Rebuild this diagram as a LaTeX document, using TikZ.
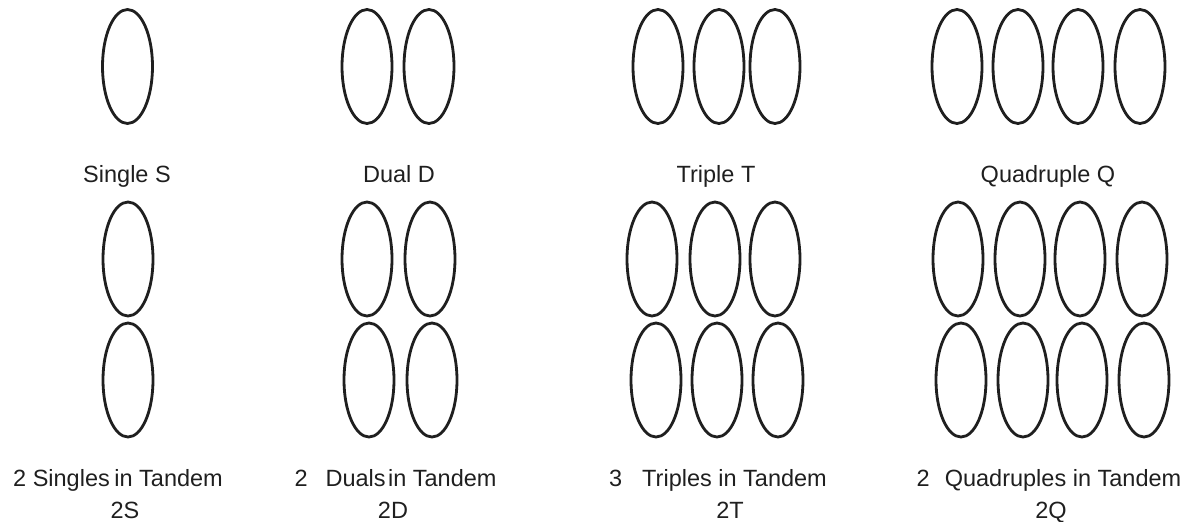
\documentclass[tikz,border=0pt]{standalone}
\usepackage{fontspec}
\setmainfont{Liberation Sans}
\newcommand{\gearfont}{\fontsize{11.75}{14}\selectfont}
\tikzset{
  tyre/.style={line width=1.4pt, draw=black!88},
  caption/.style={font=\gearfont, anchor=base, inner sep=0pt, text=black!88}
}
\begin{document}
\begin{tikzpicture}[x=0.5pt, y=-0.5pt]
				\useasboundingbox (0,0) rectangle (1201,521);
				% top row: single axle groups
				\foreach \x in {127.5, 367, 429, 658, 719, 775, 957, 1018, 1078, 1140}
					\draw[tyre] (\x,66.5) ellipse [x radius=12.5pt, y radius=28.5pt];
				% bottom rows: tandem groups
				\foreach \x in {128, 367, 430, 652, 715, 775, 958, 1020, 1080, 1142}
					\draw[tyre] (\x,259) ellipse [x radius=12.5pt, y radius=28.5pt];
				\foreach \x in {128, 369, 432, 656, 717, 778, 961, 1023, 1082, 1144}
					\draw[tyre] (\x,380) ellipse [x radius=12.5pt, y radius=28.5pt];
				% labels
				\node[caption] (single) at (127,182) {Single S};
				\node[caption] (dual) at (399,182) {Dual D};
				\node[caption] (triple) at (716,182) {Triple T};
				\node[caption] (quad) at (1048,182) {Quadruple Q};
				\node[caption] (tsingle) at (118,486) {2 Singles\hspace{-1pt} in Tandem};
				\node[caption] (tdual) at (395.5,486) {2\hspace{9pt}Duals\hspace{1.2pt}in Tandem};
				\node[caption] (ttriple) at (718,486) {3\hspace{10pt}Triples in Tandem};
				\node[caption] (tquad) at (1049,486) {2\hspace{7.5pt}Quadruples in Tandem};
				\node[caption] (code2s) at (125,518.5) {2S};
				\node[caption] (code2d) at (393,518.5) {2D};
				\node[caption] (code2t) at (730,518.5) {2T};
				\node[caption] (code2q) at (1051,518.5) {2Q};
			\end{tikzpicture}
\end{document}
